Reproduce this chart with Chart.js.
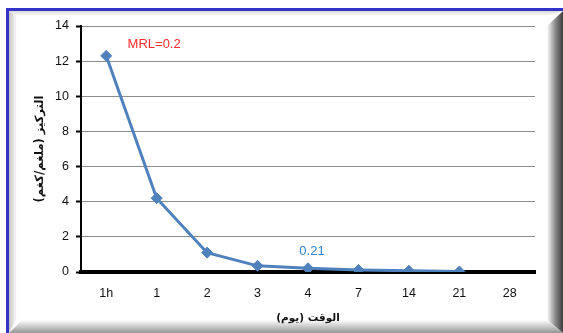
<!DOCTYPE html>
<html>
<head>
<meta charset="utf-8">
<script src="https://cdn.jsdelivr.net/npm/chart.js@4.4.1/dist/chart.umd.min.js"></script>
<style>
    html, body { margin: 0; padding: 0; background: #fff; }
    #wrap { width: 563px; height: 333px; }
</style>
</head>
<body>
<div id="wrap"><canvas id="chart"></canvas></div>
<script>
// residue concentration over time
const days = ["1h", "1", "2", "3", "4", "7", "14", "21", "28"];
const residue = [12.3, 4.2, 1.1, 0.35, 0.21, 0.12, 0.07, 0.03, null];
const yTicks = [0, 2, 4, 6, 8, 10, 12, 14];
const mrl = 0.2;
const labelIndex = 4;

// frame with blue top/left edge and grey bevels
const framePlugin = {
    id: "frame",
    beforeDraw(chart) {
        const ctx = chart.ctx;
        const w = chart.width, h = chart.height;
        ctx.save();
        ctx.fillStyle = "#fff";
        ctx.fillRect(0, 0, w, h);

        // right bevel
        let g = ctx.createLinearGradient(547, 0, w, 0);
        g.addColorStop(0, "#ffffff");
        g.addColorStop(0.5, "#8e8e8e");
        g.addColorStop(1, "#3c3c3c");
        ctx.fillStyle = g;
        ctx.beginPath();
        ctx.moveTo(w, 11);
        ctx.lineTo(547, 26);
        ctx.lineTo(547, 320);
        ctx.lineTo(w, h);
        ctx.closePath();
        ctx.fill();

        // bottom bevel
        g = ctx.createLinearGradient(0, 320, 0, h);
        g.addColorStop(0, "#ffffff");
        g.addColorStop(1, "#959595");
        ctx.fillStyle = g;
        ctx.beginPath();
        ctx.moveTo(9, h);
        ctx.lineTo(22, 320);
        ctx.lineTo(547, 320);
        ctx.lineTo(w, h);
        ctx.closePath();
        ctx.fill();

        // left bevel
        g = ctx.createLinearGradient(9, 0, 17, 0);
        g.addColorStop(0, "#c4c4c4");
        g.addColorStop(1, "#ffffff");
        ctx.fillStyle = g;
        ctx.beginPath();
        ctx.moveTo(9, 11);
        ctx.lineTo(17, 16);
        ctx.lineTo(17, 318);
        ctx.lineTo(9, h);
        ctx.closePath();
        ctx.fill();

        // top bevel
        g = ctx.createLinearGradient(0, 11, 0, 16);
        g.addColorStop(0, "#d8d8d8");
        g.addColorStop(1, "#ffffff");
        ctx.fillStyle = g;
        ctx.beginPath();
        ctx.moveTo(9, 11);
        ctx.lineTo(w, 11);
        ctx.lineTo(547, 16);
        ctx.lineTo(17, 16);
        ctx.closePath();
        ctx.fill();

        // blue edge
        ctx.fillStyle = "#3333c8";
        ctx.fillRect(6, 8, w - 6, 3);
        ctx.fillRect(6, 8, 3, h - 8);
        ctx.restore();
    },
    afterDatasetsDraw(chart) {
        const ctx = chart.ctx;
        const x = chart.scales.x;
        const y = chart.scales.y;
        ctx.save();
        ctx.textAlign = "center";
        ctx.textBaseline = "middle";
        ctx.font = "13px 'Liberation Sans'";
        ctx.fillStyle = "#ff2a2a";
        ctx.fillText("MRL=" + mrl, x.getPixelForValue(0.95), y.getPixelForValue(12.95));
        ctx.fillStyle = "#2e7fcc";
        const v = residue[labelIndex];
        ctx.fillText(String(v), x.getPixelForValue(labelIndex) + 4, y.getPixelForValue(v) - 17);
        ctx.restore();
    }
};

const data = {
    labels: days,
    datasets: [{
        label: "التركيز",
        data: residue,
        borderColor: "#4f81bd",
        backgroundColor: "#4f81bd",
        borderWidth: 3,
        pointStyle: "rectRot",
        pointRadius: 5.5,
        pointBorderWidth: 1,
        tension: 0
    }]
};

const config = {
    type: "line",
    data: data,
    options: {
        responsive: true,
        maintainAspectRatio: false,
        animation: false,
        layout: {
            padding: { left: 31, top: 26, right: 28, bottom: 6 }
        },
        plugins: {
            legend: { display: false },
            tooltip: { enabled: false }
        },
        scales: {
            x: {
                offset: true,
                grid: { display: false, drawTicks: false },
                border: { color: "#000", width: 4 },
                ticks: {
                    color: "#111",
                    padding: 14,
                    font: { family: "'Liberation Sans'", size: 12.5 }
                },
                title: {
                    display: true,
                    text: "الوقت (يوم)",
                    color: "#111",
                    padding: { top: 6, bottom: 2 },
                    font: { family: "'DejaVu Sans'", size: 10.5, weight: "bold" }
                },
                afterFit(scale) { scale.height = 55; }
            },
            y: {
                min: 0,
                max: 14,
                afterBuildTicks(scale) {
                    scale.ticks = yTicks.map(v => ({ value: v }));
                },
                grid: {
                    color: "#8c8c8c",
                    lineWidth: 1,
                    tickColor: "#000",
                    tickLength: 5,
                    tickWidth: 2
                },
                border: { color: "#000", width: 2 },
                ticks: {
                    color: "#111",
                    padding: 7,
                    font: { family: "'Liberation Sans'", size: 12.5 }
                },
                title: {
                    display: true,
                    text: "التركيز (ملغم/كغم)",
                    color: "#111",
                    padding: { top: 2, bottom: 4 },
                    font: { family: "'DejaVu Sans'", size: 11.5, weight: "bold" }
                },
                afterFit(scale) { scale.width = 50; }
            }
        }
    },
    plugins: [framePlugin]
};

const chart = new Chart(document.getElementById("chart"), config);
</script>
</body>
</html>
